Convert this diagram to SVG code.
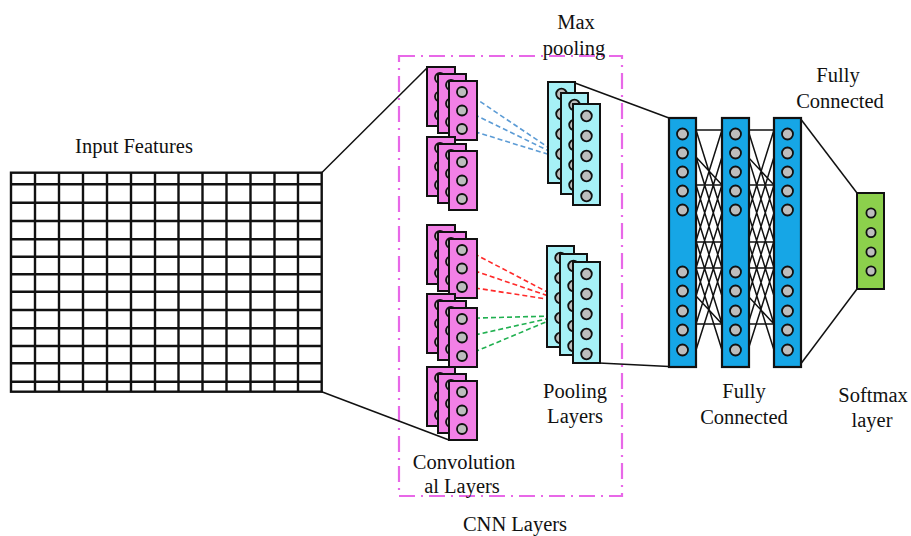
<svg xmlns="http://www.w3.org/2000/svg" xmlns:xlink="http://www.w3.org/1999/xlink" width="911" height="536" viewBox="0 0 911 536">
<style>
.lbl{font-family:"Liberation Serif","Times New Roman",serif;font-size:20.5px;fill:#111;text-anchor:middle}
.grid{stroke:#111;stroke-width:2.4;fill:none}
.conv{fill:#f280e6;stroke:#111;stroke-width:2}
.pool{fill:#a6f0f6;stroke:#111;stroke-width:2}
.fc{fill:#16a6e6;stroke:#111;stroke-width:2.2}
.soft{fill:#8cd04c;stroke:#111;stroke-width:2}
.dot{fill:#bdbdbd;stroke:#111;stroke-width:1.8}
.ln{stroke:#111;stroke-width:1.5;fill:none}
.mesh{stroke:#111;stroke-width:1.5;fill:none}
.dsh{stroke-width:1.6;fill:none;stroke-dasharray:5 3}
.box{fill:none;stroke:#e868e8;stroke-width:2.2;stroke-dasharray:16 6 2 6}
</style>
<defs>
<g id="convCol">
<rect class="conv" x="0" y="0" width="28" height="59"/>
<circle class="dot" cx="13" cy="11" r="5"/>
<circle class="dot" cx="13" cy="29.5" r="5"/>
<circle class="dot" cx="13" cy="48" r="5"/>
</g>
<g id="convStack">
<use xlink:href="#convCol" x="0" y="0"/>
<use xlink:href="#convCol" x="11" y="7"/>
<use xlink:href="#convCol" x="22" y="14"/>
</g>
<g id="poolCol">
<rect class="pool" x="0" y="0" width="27" height="101"/>
<circle class="dot" cx="13.5" cy="12" r="5.3"/>
<circle class="dot" cx="13.5" cy="32" r="5.3"/>
<circle class="dot" cx="13.5" cy="52" r="5.3"/>
<circle class="dot" cx="13.5" cy="72" r="5.3"/>
<circle class="dot" cx="13.5" cy="92" r="5.3"/>
</g>
<g id="fcCol">
<rect class="fc" x="0" y="0" width="27" height="249"/>
<circle class="dot" cx="13.5" cy="16" r="5.5"/>
<circle class="dot" cx="13.5" cy="35" r="5.5"/>
<circle class="dot" cx="13.5" cy="54" r="5.5"/>
<circle class="dot" cx="13.5" cy="73" r="5.5"/>
<circle class="dot" cx="13.5" cy="92" r="5.5"/>
<circle class="dot" cx="13.5" cy="154" r="5.5"/>
<circle class="dot" cx="13.5" cy="173" r="5.5"/>
<circle class="dot" cx="13.5" cy="193" r="5.5"/>
<circle class="dot" cx="13.5" cy="212" r="5.5"/>
<circle class="dot" cx="13.5" cy="232" r="5.5"/>
</g>
</defs>
<rect x="0" y="0" width="911" height="536" fill="#fff"/>

<g id="cnn-box">
<rect class="box" x="399" y="56" width="223" height="440"/>
</g>

<g id="connectors">
<path class="ln" d="M321.7 172.7 L427 68"/>
<path class="ln" d="M321.7 391.7 L449 440"/>
<path class="ln" d="M575 83 L669 118"/>
<path class="ln" d="M599 363 L669 366.5"/>
<path class="ln" d="M800.7 119 L857 193"/>
<path class="ln" d="M800.7 364 L857 289"/>
<g stroke="#5b9bd5" class="dsh">
<path d="M467 92.7 L555 152"/>
<path d="M467 111 L556 154.5"/>
<path d="M467 129.3 L557 157"/>
</g>
<g stroke="#ff2a2a" class="dsh">
<path d="M467 250 L553 295"/>
<path d="M467 268.3 L553 297.5"/>
<path d="M467 286.7 L553 300"/>
</g>
<g stroke="#20b050" class="dsh">
<path d="M467 318.3 L553 316"/>
<path d="M467 336.7 L553 317.5"/>
<path d="M467 355 L553 319"/>
</g>
<g class="mesh">
<path d="M696 130 H722 M696 185 H722 M696 242 H722 M696 268 H722 M696 324 H722"/>
<path d="M696 130 L722 213 M696 213 L722 130 M696 157 L722 241 M696 241 L722 157 M696 185 L722 268 M696 268 L722 185 M696 213 L722 296 M696 296 L722 213 M696 241 L722 324 M696 324 L722 241 M696 268 L722 350 M696 350 L722 268 M696 157 L722 185 M696 296 L722 324"/>
<path d="M748 130 H774 M748 185 H774 M748 242 H774 M748 268 H774 M748 324 H774"/>
<path d="M748 130 L774 213 M748 213 L774 130 M748 157 L774 241 M748 241 L774 157 M748 185 L774 268 M748 268 L774 185 M748 213 L774 296 M748 296 L774 213 M748 241 L774 324 M748 324 L774 241 M748 268 L774 350 M748 350 L774 268 M748 157 L774 185 M748 296 L774 324"/>
</g>
</g>

<g id="input-features">
<rect class="grid" x="11" y="172.7" width="310.7" height="219"/>
<path class="grid" d="M35 172.7 V391.7 M59 172.7 V391.7 M83 172.7 V391.7 M107 172.7 V391.7 M131 172.7 V391.7 M155 172.7 V391.7 M178.5 172.7 V391.7 M202.5 172.7 V391.7 M226.5 172.7 V391.7 M250.5 172.7 V391.7 M274.5 172.7 V391.7 M298 172.7 V391.7"/>
<path class="grid" d="M11 184.3 H321.7 M11 202.7 H321.7 M11 221 H321.7 M11 239.3 H321.7 M11 256.7 H321.7 M11 274.3 H321.7 M11 291.7 H321.7 M11 310 H321.7 M11 328.3 H321.7 M11 346 H321.7 M11 363.3 H321.7 M11 381.7 H321.7"/>
</g>

<g id="conv-1"><use xlink:href="#convStack" x="427" y="67"/></g>
<g id="conv-2"><use xlink:href="#convStack" x="427" y="137"/></g>
<g id="conv-3"><use xlink:href="#convStack" x="427" y="225"/></g>
<g id="conv-4"><use xlink:href="#convStack" x="427" y="294"/></g>
<g id="conv-5"><use xlink:href="#convStack" x="427" y="367"/></g>

<g id="pool-1">
<use xlink:href="#poolCol" x="548" y="82"/>
<use xlink:href="#poolCol" x="561" y="93"/>
<use xlink:href="#poolCol" x="573" y="104"/>
</g>
<g id="pool-2">
<use xlink:href="#poolCol" x="547" y="246"/>
<use xlink:href="#poolCol" x="560" y="254"/>
<use xlink:href="#poolCol" x="573" y="262"/>
</g>

<g id="fc-1"><use xlink:href="#fcCol" x="669" y="118"/></g>
<g id="fc-2"><use xlink:href="#fcCol" x="722" y="118"/></g>
<g id="fc-3"><use xlink:href="#fcCol" x="774" y="118"/></g>

<g id="softmax">
<rect class="soft" x="857" y="193" width="27" height="96"/>
<circle class="dot" cx="871" cy="213" r="4.6"/>
<circle class="dot" cx="871" cy="232.5" r="4.6"/>
<circle class="dot" cx="871" cy="252" r="4.6"/>
<circle class="dot" cx="871" cy="271" r="4.6"/>
</g>

<g id="labels">
<text class="lbl" x="134" y="153">Input Features</text>
<text class="lbl" x="576" y="29">Max</text>
<text class="lbl" x="574" y="55">pooling</text>
<text class="lbl" x="838" y="82">Fully</text>
<text class="lbl" x="840" y="108">Connected</text>
<text class="lbl" x="575" y="398">Pooling</text>
<text class="lbl" x="575" y="423">Layers</text>
<text class="lbl" x="464" y="469">Convolution</text>
<text class="lbl" x="462" y="493">al Layers</text>
<text class="lbl" x="515" y="531">CNN Layers</text>
<text class="lbl" x="744" y="398">Fully</text>
<text class="lbl" x="744" y="424">Connected</text>
<text class="lbl" x="873" y="402">Softmax</text>
<text class="lbl" x="872" y="427">layer</text>
</g>
</svg>
